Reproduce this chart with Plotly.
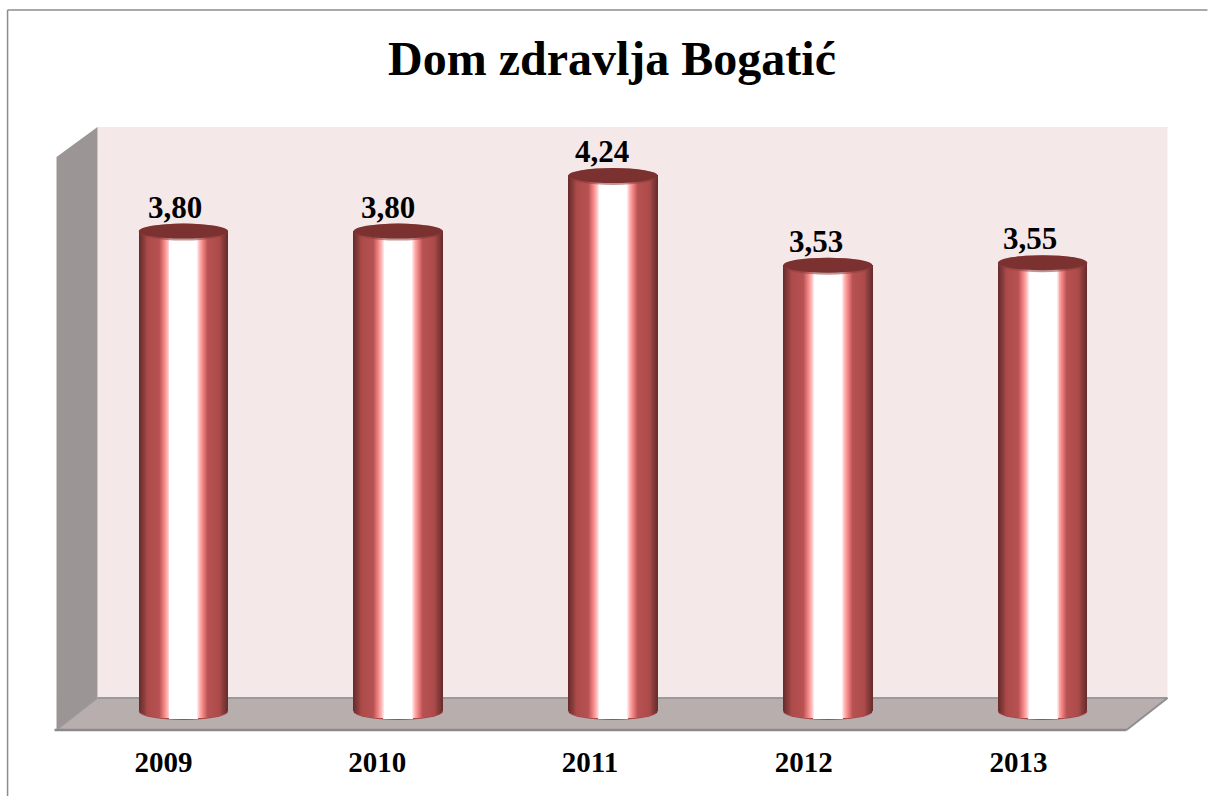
import plotly.graph_objects as go

W, H = 1208, 796

# ---- data ----
years = [2009, 2010, 2011, 2012, 2013]
values = [3.80, 3.80, 4.24, 3.53, 3.55]
value_labels = ["3,80", "3,80", "4,24", "3,53", "3,55"]
title_text = "Dom zdravlja Bogatić"

# ---- styles / layout ----
SERIF = "Liberation Serif, Times New Roman, serif"
PL, PR, PT, PB = 75.5, 1150.5, 127, 730   # plot-area pixels
Y0_PX = 711                                # pixel of value 0
PX_PER_UNIT = 126.3
y_low = -(PB - Y0_PX) / PX_PER_UNIT
y_high = (Y0_PX - PT) / PX_PER_UNIT
BAR_W = 89.5 / 215
RY = 7.5 / PX_PER_UNIT
RY_BOTTOM = 8 / PX_PER_UNIT
label_dx = [-8, -10, -11, -12, -13]
tick_dx_px = [-20, -21, -23, -24, -24]
STRIPS = 45

stops = [(0.0, (0x6a, 0x2c, 0x2c)), (0.05, (0x8a, 0x3c, 0x3c)), (0.09, (0xac, 0x4a, 0x4a)),
         (0.22, (0xb8, 0x52, 0x52)), (0.27, (0xee, 0x80, 0x80)), (0.31, (0xff, 0xb4, 0xb4)),
         (0.345, (0xff, 0xff, 0xff)), (0.5, (0xff, 0xff, 0xff))]


def shade(t):
    for (a, ca), (b, cb) in zip(stops, stops[1:]):
        if t <= b:
            f = (t - a) / (b - a)
            return "rgb(%d,%d,%d)" % tuple(round(p + (q - p) * f) for p, q in zip(ca, cb))
    return "rgb(255,255,255)"


def px(x):
    return (x - PL) / (PR - PL)


def py(y):
    return (PB - y) / (PB - PT)


def poly(points, fill, line=None, lw=0):
    path = "M" + " L".join(f"{px(a):.5f},{py(b):.5f}" for a, b in points) + " Z"
    return dict(type="path", path=path, xref="paper", yref="paper", fillcolor=fill,
                line=dict(color=line or fill, width=lw), layer="below")


def seg(x0, y0, x1, y1, color, lw):
    return dict(type="line", xref="paper", yref="paper", x0=px(x0), y0=py(y0), x1=px(x1), y1=py(y1),
                line=dict(color=color, width=lw), layer="below")


fig = go.Figure()

# concentric strips: widest/darkest first, each narrower one on top
for k in range(STRIPS):
    t = k / (2 * STRIPS)
    frac = 1 - k / STRIPS          # strip half-width relative to the radius
    base = -RY_BOTTOM * (1 - frac ** 2) ** 0.5
    fig.add_trace(go.Bar(x=years, y=[v - base for v in values], base=[base] * len(values),
                         width=BAR_W * frac, marker=dict(color=shade(t), line=dict(width=0)),
                         showlegend=False, hoverinfo="skip"))

shapes = [
    # chart frame
    seg(7, 10, W, 10, "#8c8c8c", 1.5),
    seg(7, 10, 7, H, "#8c8c8c", 1.5),
    # back wall, side wall, floor
    poly([(97, 127), (1168, 127), (1168, 698), (97, 698)], "#f4e8e8"),
    poly([(56, 157), (97, 127), (97, 698), (56, 730)], "#9b9595"),
    poly([(97, 698), (1168, 698), (1127, 730), (56, 730)], "#b8aeae"),
    seg(97, 698, 1168, 698, "#9a9a9a", 2),
    seg(97, 698, 56, 730, "#9a9a9a", 1.5),
    seg(1168, 698, 1127, 730, "#8f8f8f", 2),
    seg(54, 730, 1127, 730, "#8a8a8a", 2.5),
]
RIM = 2 / PX_PER_UNIT
for yr, v in zip(years, values):
    # rim under the base of the cylinder
    shapes.append(dict(type="circle", xref="x", yref="y", x0=yr - BAR_W / 2, x1=yr + BAR_W / 2,
                       y0=-RY_BOTTOM - 1 / PX_PER_UNIT, y1=RY_BOTTOM, fillcolor="#a84a4a",
                       line=dict(width=0), layer="below"))
    # soft edge below the lid
    shapes.append(dict(type="circle", xref="x", yref="y", x0=yr - BAR_W / 2, x1=yr + BAR_W / 2,
                       y0=v - RY - RIM, y1=v + RY, fillcolor="rgba(140,60,60,0.55)",
                       line=dict(width=0), layer="above"))
    # lid of the cylinder
    shapes.append(dict(type="circle", xref="x", yref="y", x0=yr - BAR_W / 2, x1=yr + BAR_W / 2,
                       y0=v - RY, y1=v + RY, fillcolor="#7b3130", line=dict(width=0), layer="above"))

annotations = [
    dict(x=yr, y=v, text=f"<b>{lab}</b>", xref="x", yref="y", showarrow=False, xanchor="center", yanchor="bottom",
         xshift=dx, yshift=4.5, font=dict(family=SERIF, size=31, color="black"))
    for yr, v, lab, dx in zip(years, values, value_labels, label_dx)
]

fig.update_layout(
    width=W, height=H, autosize=False,
    margin=dict(l=PL, r=W - PR, t=PT, b=H - PB, pad=0),
    paper_bgcolor="white", plot_bgcolor="rgba(0,0,0,0)",
    barmode="overlay", bargap=0, showlegend=False,
    title=dict(text=f"<b>{title_text}</b>", x=612 / W, xanchor="center", y=1 - 58 / H, yanchor="middle",
               font=dict(family=SERIF, size=48, color="black")),
    shapes=shapes, annotations=annotations,
    xaxis=dict(range=[2008.5, 2013.5], tickmode="array",
               tickvals=[yr + d / 215 for yr, d in zip(years, tick_dx_px)],
               ticktext=[f"<b>{yr}</b>" for yr in years],
               tickfont=dict(family=SERIF, size=29, color="black"),
               ticks="outside", ticklen=6, tickcolor="rgba(0,0,0,0)", tickwidth=1,
               showgrid=False, zeroline=False, showline=False),
    yaxis=dict(range=[y_low, y_high], visible=False, showgrid=False, zeroline=False),
)

fig.write_html("out.html", post_script="document.body.style.margin='0';",
               config=dict(displayModeBar=False))
